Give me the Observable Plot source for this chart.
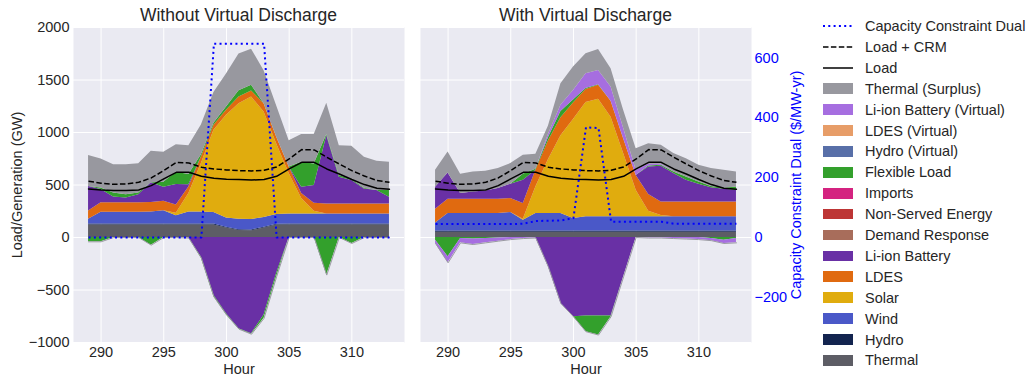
<!DOCTYPE html>
<html><head><meta charset="utf-8">
<script src="https://cdn.jsdelivr.net/npm/d3@7"></script>
<script src="https://cdn.jsdelivr.net/npm/@observablehq/plot@0.6"></script>
<style>
body{margin:0;background:#fff;font-family:"Liberation Sans",Arial,sans-serif;}
#wrap{position:relative;width:1033px;height:377px;overflow:hidden;background:#fff;}
.abs{position:absolute;top:0;}
.title{position:absolute;top:5px;font-size:17.5px;line-height:20px;color:#262626;text-align:center;white-space:nowrap;}
.li{position:absolute;left:823px;height:20px;display:flex;align-items:center;white-space:nowrap;font-size:14.5px;color:#262626;}
.sw{width:30px;height:10.7px;margin-right:12px;flex:none;}
</style></head><body>
<div id="wrap"></div>
<script>
const hours = [289,290,291,292,293,294,295,296,297,298,299,300,301,302,303,304,305,306,307,308,309,310,311,312,313];
const xTicks = [290,295,300,305,310];
const yTicks = [-1000,-500,0,500,1000,1500,2000];
const dualTicks = [-200,0,200,400,600];

const seriesNames = ["Thermal","Hydro","Wind","Solar","LDES","Li-ion Battery","Demand Response","Non-Served Energy","Imports","Flexible Load","Hydro (Virtual)","LDES (Virtual)","Li-ion Battery (Virtual)","Thermal (Surplus)"];
const seriesColors = ["#5d5d65","#13244f","#4a58c8","#e0ac0e","#e06a10","#6930a5","#a86d5b","#bd3535","#d42380","#33a02c","#586fa8","#e79d68","#a66ee0","#98989f"];

// Shared load
const load    = [463,453,447,447,453,494,558,621,621,583,564,555,552,548,552,583,653,716,716,653,605,552,504,469,460];
const loadCRM = [536,517,507,510,526,567,637,716,710,669,653,644,637,634,640,672,748,837,834,764,700,637,586,542,526];

// Without Virtual Discharge
const thermalW = [120,120,120,120,120,120,120,120,120,120,120,90,66,64,90,118,120,120,120,120,120,120,120,120,120];
const hydroW   = [8,8,8,8,8,8,8,8,8,8,8,8,8,8,8,8,8,8,8,8,8,8,8,8,8];
const windW    = [45,113,113,113,113,115,126,78,116,116,110,88,100,99,92,93,97,97,97,97,97,97,97,97,97];
const solarW   = [0,0,0,0,0,0,0,25,174,460,783,979,1100,1167,1005,675,384,146,26,0,0,0,0,0,0];
const ldesW    = [79,90,90,90,90,90,91,79,64,63,47,48,64,57,79,63,63,47,76,95,95,95,95,95,95];
const liionW   = [233,125,55,46,77,188,134,194,20,0,0,0,0,0,0,0,0,61,168,650,254,222,143,127,64];
const flexW    = [0,16,38,31,16,0,47,117,98,20,20,30,60,55,0,0,0,237,205,10,16,10,5,0,63];
const surplusW = [295,275,269,285,279,301,285,263,275,284,294,313,349,344,314,298,250,264,280,298,285,317,296,279,269];
const liionChargeW = [0,0,0,0,0,0,0,0,-5,-187,-549,-726,-868,-916,-739,-342,0,0,0,0,0,0,0,0,0];
const flexChargeW  = [-41,-41,0,0,0,-73,0,0,0,-10,-16,-10,-5,-5,-31,-32,0,0,0,-358,0,-57,0,0,0];
const dualW = [0,0,0,0,0,0,0,0,0,0,648,648,648,648,648,0,0,0,0,0,0,0,0,0,0];

// With Virtual Discharge
const thermalV = [50,50,50,50,50,50,50,50,50,50,50,50,50,50,50,50,50,50,50,50,50,50,50,50,50];
const hydroV   = [12,12,12,12,12,12,12,12,12,12,12,12,12,12,12,12,12,12,12,12,12,12,12,12,12];
const windV    = [77,166,166,166,166,166,176,103,166,166,166,119,135,135,135,135,135,135,135,135,135,135,135,135,135];
const solarV   = [0,0,0,0,0,0,0,10,254,512,742,944,1088,1120,948,602,253,53,13,0,0,0,0,0,0];
const ldesV    = [130,137,137,137,137,137,133,148,158,180,170,155,125,132,153,141,140,160,129,142,142,142,142,142,142];
const liionV   = [210,250,53,69,79,101,136,222,0,0,0,0,0,0,0,0,0,262,339,270,206,168,136,121,111];
const flexV    = [0,0,0,0,0,0,0,57,10,30,60,30,10,6,0,0,0,10,10,15,32,22,10,10,32];
const liionVirtV = [0,0,0,0,0,0,0,0,0,30,60,90,140,136,135,100,50,15,10,0,0,0,0,0,0];
const surplusV = [161,200,184,190,187,190,197,181,143,80,205,223,190,200,174,171,206,197,180,175,174,159,171,170,142];
const liionChargeV = [0,0,0,0,0,0,0,0,-5,-279,-628,-754,-748,-748,-748,-374,0,0,0,0,0,0,0,0,0];
const flexChargeV  = [-25,-184,-10,-15,-10,-5,0,0,0,0,0,0,-149,-181,-6,0,0,0,0,0,0,0,-10,-25,-10];
const liionVirtChargeV = [-32,-57,-41,-52,-41,-30,-20,-10,0,0,0,0,0,0,0,0,0,-5,-5,-10,-15,-20,-20,-32,-41];
const dualV = [45,45,45,45,45,45,45,46,55,56,57,65,368,366,53,53,53,53,53,46,46,46,46,46,46];

const FONT = '"Liberation Sans", Arial, sans-serif';
const xDomain = [287.8, 314.2];
const fmt = d => (d < 0 ? "\u2212" + Math.abs(d) : String(d));

// negative side: zeros are kept on the negative stack (Plot puts exact zeros on the positive one)
function toRows(list, negative) {
  const out = [];
  for (const [name, arr] of list) arr.forEach((v, i) => out.push({hour: hours[i], name, value: negative && v === 0 ? -1e-9 : v}));
  return out;
}
const loadRows = hours.map((h, i) => ({hour: h, load: load[i], crm: loadCRM[i]}));

const wrap = document.getElementById("wrap");
const style = {fontFamily: FONT, fontSize: "14.5px", color: "#262626", background: "transparent", overflow: "visible"};

function panel({pos, neg, dual, left, width, mL, mR, first, title}) {
  const posRows = toRows(pos, false), negRows = toRows(neg, true);
  const dualRows = hours.map((h, i) => ({hour: h, dual: dual[i]}));
  const base = Plot.plot({
    width, height: 377, marginLeft: mL, marginRight: mR, marginTop: 27, marginBottom: 35,
    style,
    x: {domain: xDomain},
    y: first ? {domain: [-1000, 2000]} : {domain: [-1000, 2000], axis: null},
    color: {domain: seriesNames, range: seriesColors},
    marks: [
      Plot.frame({fill: "#eaeaf2", stroke: "none"}),
      Plot.gridY(yTicks, {stroke: "#fff", strokeOpacity: 1, strokeWidth: 1}),
      Plot.gridX(xTicks, {stroke: "#fff", strokeOpacity: 1, strokeWidth: 1}),
      Plot.areaY(posRows, Plot.stackY({x: "hour", y: "value", z: "name", fill: "name"})),
      Plot.areaY(negRows, Plot.stackY({x: "hour", y: "value", z: "name", fill: "name"})),
      Plot.lineY(negRows, Plot.groupX({y: "sum"}, {x: "hour", y: "value", stroke: "#9a9aa2", strokeWidth: 1})),
      Plot.lineY(loadRows, {x: "hour", y: "crm", stroke: "#000", strokeWidth: 1.5, strokeDasharray: "5.5,2.4", strokeLinecap: "butt"}),
      Plot.lineY(loadRows, {x: "hour", y: "load", stroke: "#000", strokeWidth: 1.5}),
      first ? Plot.axisY(yTicks, {tickSize: 0, tickPadding: 4, tickFormat: fmt, label: "Load/Generation (GW)", labelAnchor: "center", labelOffset: 62, labelArrow: "none"}) : null,
      Plot.axisX(xTicks, {tickSize: 0, tickPadding: 4, tickFormat: d => String(d), label: "Hour", labelAnchor: "center", labelOffset: 31, labelArrow: "none"})
    ]
  });
  const over = Plot.plot({
    width, height: 377, marginLeft: mL, marginRight: mR, marginTop: 27, marginBottom: 35,
    style,
    x: {domain: xDomain, axis: null},
    y: first ? {domain: [-351, 702], axis: null} : {domain: [-351, 702]},
    marks: [
      Plot.lineY(dualRows, {x: "hour", y: "dual", stroke: "#0000ff", strokeWidth: 2, strokeDasharray: "2,3.3", strokeLinecap: "butt"}),
      first ? null : Plot.axisY(dualTicks, {anchor: "right", tickSize: 0, tickPadding: 3, tickFormat: fmt, color: "#0000ff", fill: "#0000ff",
        label: "Capacity Constraint Dual ($/MW-yr)", labelAnchor: "center", labelOffset: 49, labelArrow: "none"})
    ]
  });
  for (const el of [base, over]) {
    el.classList.add("abs");
    el.style.left = left + "px";
    wrap.appendChild(el);
  }
  const t = document.createElement("div");
  t.className = "title";
  t.textContent = title;
  t.style.left = (left + mL) + "px";
  t.style.width = (width - mL - mR) + "px";
  wrap.appendChild(t);
}

panel({
  pos: [["Thermal", thermalW], ["Hydro", hydroW], ["Wind", windW], ["Solar", solarW], ["LDES", ldesW], ["Li-ion Battery", liionW], ["Flexible Load", flexW], ["Thermal (Surplus)", surplusW]],
  neg: [["Li-ion Battery", liionChargeW], ["Flexible Load", flexChargeW]],
  dual: dualW, left: 0, width: 410, mL: 73, mR: 6, first: true, title: "Without Virtual Discharge"
});
panel({
  pos: [["Thermal", thermalV], ["Hydro", hydroV], ["Wind", windV], ["Solar", solarV], ["LDES", ldesV], ["Li-ion Battery", liionV], ["Flexible Load", flexV], ["Li-ion Battery (Virtual)", liionVirtV], ["Thermal (Surplus)", surplusV]],
  neg: [["Li-ion Battery", liionChargeV], ["Flexible Load", flexChargeV], ["Li-ion Battery (Virtual)", liionVirtChargeV]],
  dual: dualV, left: 414, width: 400, mL: 6, mR: 63, first: false, title: "With Virtual Discharge"
});

// Legend
const legendItems = [
  {label: "Capacity Constraint Dual", line: {stroke: "#0000ff", dash: "2,3.3", w: 2}},
  {label: "Load + CRM", line: {stroke: "#000", dash: "5.5,2.4", w: 1.5}},
  {label: "Load", line: {stroke: "#000", dash: null, w: 1.5}},
  ...seriesNames.slice().reverse().map((n, i) => ({label: n, color: seriesColors[seriesNames.length - 1 - i]}))
];
legendItems.forEach((it, i) => {
  const row = document.createElement("div");
  row.className = "li";
  row.style.top = (26 + 20.9 * i - 10) + "px";
  if (it.line) {
    const ns = "http://www.w3.org/2000/svg";
    const s = document.createElementNS(ns, "svg");
    s.setAttribute("width", 30); s.setAttribute("height", 10);
    s.style.marginRight = "12px"; s.style.flex = "none";
    const l = document.createElementNS(ns, "line");
    l.setAttribute("x1", 0); l.setAttribute("x2", 30); l.setAttribute("y1", 5); l.setAttribute("y2", 5);
    l.setAttribute("stroke", it.line.stroke); l.setAttribute("stroke-width", it.line.w);
    if (it.line.dash) l.setAttribute("stroke-dasharray", it.line.dash);
    s.appendChild(l);
    row.appendChild(s);
  } else {
    const sw = document.createElement("div");
    sw.className = "sw";
    sw.style.background = it.color;
    row.appendChild(sw);
  }
  const tx = document.createElement("span");
  tx.textContent = it.label;
  row.appendChild(tx);
  wrap.appendChild(row);
});
</script>
</body></html>
